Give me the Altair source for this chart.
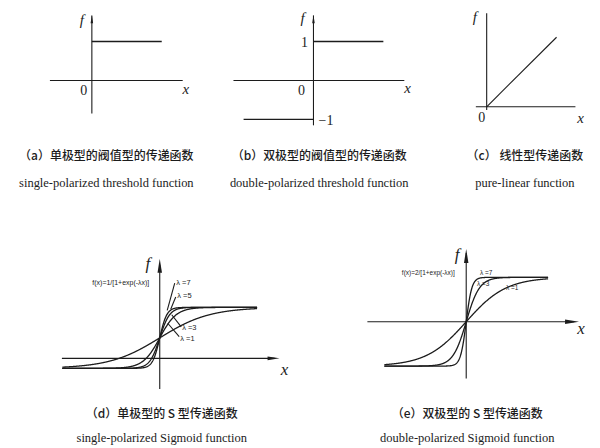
import altair as alt
import numpy as np
import pandas as pd

INK = "#1c1c1c"

# ---------------- values ----------------
# (a) single-polarized threshold: f = 1 for x >= 0
A_STEP_X = [0, 2]
A_STEP_F = [1, 1]
# (b) double-polarized threshold: f = 1 / -1
B_UP_X = [0, 2]
B_UP_F = [1, 1]
B_LO_X = [-2, 0]
B_LO_F = [-1, -1]
# (c) pure linear: f = x
C_X = [0, 2]
C_F = [0, 2]
# (d) single-polarized sigmoid f = 1/[1+exp(-lambda x)]
D_LAMBDAS = [1, 3, 5, 7]
D_X_RANGE = [-3.9, 3.9]
# (e) double-polarized sigmoid f = 2/[1+exp(-lambda x)] - 1
E_LAMBDAS = [1, 3, 7]
E_X_RANGE = [-4.1, 4.1]

CAPTIONS_CN = [
    "（a）单极型的阀值型的传递函数",
    "（b）双极型的阀值型的传递函数",
    "（c） 线性型传递函数",
    "（d）单极型的 S 型传递函数",
    "（e）双极型的 S 型传递函数",
]
CAPTIONS_EN = [
    "single-polarized threshold function",
    "double-polarized threshold function",
    "pure-linear function",
    "single-polarized Sigmoid function",
    "double-polarized Sigmoid function",
]
FORMULA_D = "f(x)=1/[1+exp(-λx)]"
FORMULA_E = "f(x)=2/[1+exp(-λx)]"

ARROW_UP = "M -0.32 1 L 0 -1 L 0.32 1 Z"
ARROW_RIGHT = "M -1 -0.32 L 1 0 L -1 0.32 Z"


def panel(w, h, xdom, ydom, rules, lines, texts, arrows, cn, en, dx=0, offset=20, sub_pad=14):
    def X(f="x"):
        return alt.X(f"{f}:Q", scale=alt.Scale(domain=xdom, nice=False, zero=False), axis=None)

    def Y(f="y"):
        return alt.Y(f"{f}:Q", scale=alt.Scale(domain=ydom, nice=False, zero=False), axis=None)

    layers = []
    layers.append(
        alt.Chart(rules).mark_rule(color=INK, strokeWidth=1.1)
        .encode(x=X(), x2="x2:Q", y=Y(), y2="y2:Q")
    )
    for df, sw in lines:
        layers.append(
            alt.Chart(df).mark_line(color=INK, strokeWidth=sw, interpolate="linear")
            .encode(x=X(), y=Y(), detail="g:N", order="x:Q")
        )
    for df, style in texts:
        layers.append(
            alt.Chart(df).mark_text(color=INK, **style)
            .encode(x=X(), y=Y(), text="t:N")
        )
    for df, shape, size in arrows:
        layers.append(
            alt.Chart(df).mark_point(shape=shape, size=size, filled=True, color=INK, opacity=1, strokeWidth=0)
            .encode(x=X(), y=Y())
        )
    return alt.layer(*layers).properties(
        width=w, height=h,
        title=alt.TitleParams(
            text=cn, subtitle=en, orient="bottom", anchor="middle", dx=dx,
            font="Noto Sans CJK SC", fontSize=12, fontWeight=500, color=INK,
            subtitleFont="Liberation Serif", subtitleFontSize=12.5, subtitleColor=INK,
            subtitlePadding=sub_pad, offset=offset,
        ),
    )


ITAL = dict(font="Liberation Serif", fontStyle="italic", fontSize=15)
ITAL_BIG = dict(font="Liberation Serif", fontStyle="italic", fontSize=17)
NUM = dict(font="Liberation Serif", fontSize=14)
SMALL_D = dict(font="Liberation Sans", fontSize=7)
SMALL_D_L = dict(font="Liberation Sans", fontSize=7.5, align="left")
SMALL_E = dict(font="Liberation Sans", fontSize=6.5)

# ---- (a)
a_rules = pd.DataFrame({"x": [-1.2, 0], "x2": [2.6, 0], "y": [0, -0.85], "y2": [0, 1.67]})
a_line = pd.DataFrame({"x": A_STEP_X, "y": A_STEP_F, "g": "s"})
pa = panel(
    189, 123, [-2.4, 3.0], [-1.3, 1.85], a_rules, [(a_line, 1.3)],
    [(pd.DataFrame({"x": [-0.29, 2.69], "y": [1.54, -0.23], "t": ["f", "x"]}), ITAL),
     (pd.DataFrame({"x": [-0.23], "y": [-0.28], "t": ["0"]}), NUM)],
    [(pd.DataFrame({"x": [0], "y": [1.57]}), ARROW_UP, 64)],
    CAPTIONS_CN[0], CAPTIONS_EN[0], dx=4,
)

# ---- (b)
b_rules = pd.DataFrame({"x": [-2.29, 0], "x2": [2.6, 0], "y": [0, -1.15], "y2": [0, 1.67]})
b_line = pd.concat([
    pd.DataFrame({"x": B_UP_X, "y": B_UP_F, "g": "u"}),
    pd.DataFrame({"x": B_LO_X, "y": B_LO_F, "g": "l"}),
])
pb = panel(
    213.5, 123, [-3.0, 3.1], [-1.3, 1.85], b_rules, [(b_line, 1.3)],
    [(pd.DataFrame({"x": [-0.31, 2.69], "y": [1.59, -0.2], "t": ["f", "x"]}), ITAL),
     (pd.DataFrame({"x": [-0.26, -0.34, 0.36], "y": [0.95, -0.26, -1.03], "t": ["1", "0", "−1"]}), NUM)],
    [(pd.DataFrame({"x": [0], "y": [1.57]}), ARROW_UP, 64)],
    CAPTIONS_CN[1], CAPTIONS_EN[1], dx=4,
)

# ---- (c)
c_rules = pd.DataFrame({"x": [-0.31, 0], "x2": [2.54, 0], "y": [0, -0.09], "y2": [0, 2.69]})
c_line = pd.DataFrame({"x": C_X, "y": C_F, "g": "l"})
pc = panel(
    157.5, 123, [-1.5, 3.0], [-0.7, 2.83], c_rules, [(c_line, 1.1)],
    [(pd.DataFrame({"x": [-0.34, 2.69], "y": [2.57, -0.32], "t": ["f", "x"]}), ITAL),
     (pd.DataFrame({"x": [-0.14], "y": [-0.32], "t": ["0"]}), NUM)],
    [],
    CAPTIONS_CN[2], CAPTIONS_EN[2], dx=12,
)

# ---- (d)
dx_grid = np.linspace(D_X_RANGE[0], D_X_RANGE[1], 600)
d_curves = pd.concat([
    pd.DataFrame({"x": dx_grid, "y": 1 / (1 + np.exp(-lam * dx_grid)), "g": f"l{lam}"})
    for lam in D_LAMBDAS
])
d_rules = pd.DataFrame({
    "x": [-3.92, 0, 0.60, 0.64, 0.86, 0.78],
    "x2": [4.6, 0, 0.30, 0.44, 0.48, 0.32],
    "y": [0.164, -0.34, 1.40, 1.17, 0.68, 0.52],
    "y2": [0.164, 1.7, 0.95, 0.97, 0.88, 0.74],
})
pd_ = panel(
    292, 152, [-6.08, 5.6], [-0.40, 2.09], d_rules, [(d_curves, 1.3)],
    [(pd.DataFrame({"x": [-0.48, 5.0], "y": [1.72, -0.02], "t": ["f", "x"]}), ITAL_BIG),
     (pd.DataFrame({"x": [-1.56], "y": [1.40], "t": [FORMULA_D]}), SMALL_D),
     (pd.DataFrame({"x": [0.66, 0.70, 0.90, 0.82], "y": [1.40, 1.19, 0.66, 0.48],
                    "t": ["λ =7", "λ =5", "λ =3", "λ =1"]}), SMALL_D_L)],
    [(pd.DataFrame({"x": [0], "y": [1.685]}), ARROW_UP, 196),
     (pd.DataFrame({"x": [4.56], "y": [0.164]}), ARROW_RIGHT, 144)],
    CAPTIONS_CN[3], CAPTIONS_EN[3], dx=8, offset=16, sub_pad=11,
)

# ---- (e)
ex_grid = np.linspace(E_X_RANGE[0], E_X_RANGE[1], 600)
e_curves = pd.concat([
    pd.DataFrame({"x": ex_grid, "y": 2 / (1 + np.exp(-lam * ex_grid)) - 1, "g": f"l{lam}"})
    for lam in E_LAMBDAS
])
e_rules = pd.DataFrame({"x": [-4.95, 0], "x2": [5.4, 0], "y": [0, -1.28], "y2": [0, 1.55]})
pe = panel(
    252, 152, [-6.35, 6.25], [-1.6, 1.82], e_rules, [(e_curves, 1.3)],
    [(pd.DataFrame({"x": [-0.45, 5.75], "y": [1.50, -0.16], "t": ["f", "x"]}), ITAL_BIG),
     (pd.DataFrame({"x": [-1.9], "y": [1.10], "t": [FORMULA_E]}), SMALL_E),
     (pd.DataFrame({"x": [1.0, 0.85, 2.3], "y": [1.10, 0.85, 0.76],
                    "t": ["λ =7", "λ =3", "λ =1"]}), SMALL_E)],
    [(pd.DataFrame({"x": [0], "y": [1.48]}), ARROW_UP, 196),
     (pd.DataFrame({"x": [5.3], "y": [0]}), ARROW_RIGHT, 196)],
    CAPTIONS_CN[4], CAPTIONS_EN[4], dx=2, offset=16, sub_pad=11,
)

top = alt.hconcat(pa, pb, pc, spacing=12)
bottom = alt.hconcat(pd_, pe, spacing=40)
chart = alt.vconcat(top, bottom, spacing=51).properties(
    padding=0, background="white"
).configure_view(stroke=None)

chart.save("out.html", embed_options={"renderer": "svg", "actions": False})
